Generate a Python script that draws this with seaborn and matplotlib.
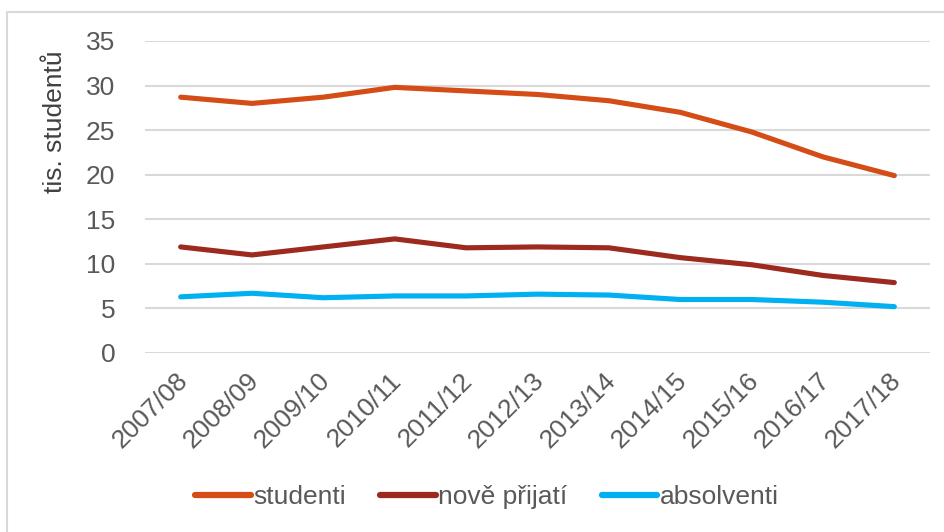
"""Line chart: students, newly admitted and graduates per academic year."""

import matplotlib
matplotlib.use("Agg")
import matplotlib.pyplot as plt
from matplotlib.patches import Rectangle
import matplotlib.transforms as mtransforms
import seaborn as sns
import pandas as pd

years = ["2007/08", "2008/09", "2009/10", "2010/11", "2011/12", "2012/13",
         "2013/14", "2014/15", "2015/16", "2016/17", "2017/18"]
studenti = [28.7, 28.0, 28.7, 29.8, 29.4, 29.0, 28.3, 27.0, 24.8, 22.0, 19.9]
nove_prijati = [11.9, 11.0, 11.9, 12.8, 11.8, 11.9, 11.8, 10.7, 9.9, 8.7, 7.9]
absolventi = [6.3, 6.7, 6.2, 6.4, 6.4, 6.6, 6.5, 6.0, 6.0, 5.7, 5.2]

series_names = ["studenti", "nově přijatí", "absolventi"]
colors = ["#D44D16", "#9C2A1E", "#00B0F0"]

df = pd.DataFrame({
    "rok": years * 3,
    "hodnota": studenti + nove_prijati + absolventi,
    "serie": [n for n in series_names for _ in years],
})

sns.set_style("white")
plt.rcParams["font.family"] = ["Liberation Sans", "DejaVu Sans"]
FS = 19

fig = plt.figure(figsize=(9.45, 5.32), dpi=100)
ax = fig.add_axes([145 / 945, 1 - 353 / 532, (930 - 145) / 945, (353 - 41) / 532])

sns.lineplot(
    data=df, x="rok", y="hodnota", hue="serie", hue_order=series_names,
    palette=colors, linewidth=3.7, ax=ax, legend=False, sort=False,
)
for line in ax.lines:
    line.set_solid_capstyle("round")

ax.set_xlim(-0.5, len(years) - 0.5)
ax.set_ylim(0, 35)
ax.set_yticks(range(0, 36, 5))
ax.grid(axis="y", color="#D9D9D9", linewidth=1.5)
ax.set_axisbelow(True)
sns.despine(ax=ax, left=True, bottom=True)

ax.tick_params(axis="both", length=0, labelsize=FS, labelcolor="#595959")
ax.tick_params(axis="y", pad=21.5)
ax.set_xlabel("")
ax.set_ylabel("tis. studentů", fontsize=FS, color="#404040")
ax.yaxis.set_label_coords(-0.099, 0.742)

offset = mtransforms.ScaledTranslation(3 / 100, -19 / 100, fig.dpi_scale_trans)
for lbl in ax.get_xticklabels():
    lbl.set_rotation(45)
    lbl.set_ha("right")
    lbl.set_va("center")
    lbl.set_rotation_mode("anchor")
    lbl.set_transform(lbl.get_transform() + offset)

handles = [plt.Line2D([], [], color=c, linewidth=4.5, solid_capstyle="round")
           for c in colors]
fig.legend(
    handles, series_names, loc="center", bbox_to_anchor=(487 / 945, 1 - 497 / 532),
    ncol=3, frameon=False, fontsize=FS, handlelength=2.1, handletextpad=0.1,
    columnspacing=1.3, labelcolor="#595959",
)

# light frame around the chart area
fig.patches.append(Rectangle(
    (7 / 945, -0.05), 1.0, 1 - 11.5 / 532 + 0.05, transform=fig.transFigure,
    fill=False, edgecolor="#D9D9D9", linewidth=1.5,
))

fig.savefig("out.png", dpi=100)
